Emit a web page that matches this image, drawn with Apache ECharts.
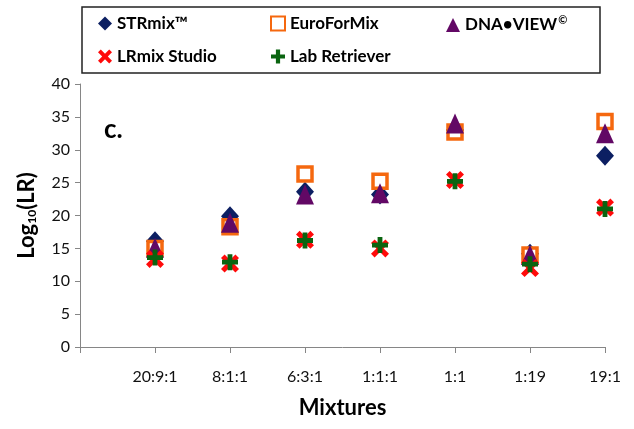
<!DOCTYPE html>
<html>
<head>
<meta charset="utf-8">
<script src="https://cdn.jsdelivr.net/npm/echarts@6/dist/echarts.min.js"></script>
<style>
  html, body { margin: 0; padding: 0; background: #fff; }
  #main { width: 634px; height: 429px; }
</style>
</head>
<body>
<div id="main"></div>
<script>
var categories = ['20:9:1', '8:1:1', '6:3:1', '1:1:1', '1:1', '1:19', '19:1'];
var strmix = [16.1, 19.9, 23.6, 23.2, 33.0, 14.2, 29.1];
var euroForMix = [15.0, 18.3, 26.3, 25.2, 32.7, 14.0, 34.3];
var dnaView = [15.1, 18.9, 23.2, 23.4, 34.0, 14.0, 32.5];
var lrmix = [13.4, 12.7, 16.3, 15.0, 25.4, 12.0, 21.2];
var labRetriever = [13.6, 12.9, 16.2, 15.5, 25.2, 12.6, 21.0];
var yTicks = [0, 5, 10, 15, 20, 25, 30, 35, 40];

var font = 'Lato, "Open Sans", sans-serif';
var xPath = 'path://M2,0 L5,3 L8,0 L10,2 L7,5 L10,8 L8,10 L5,7 L2,10 L0,8 L3,5 L0,2 Z';
var plusPath = 'path://M3.5,0 H6.5 V3.5 H10 V6.5 H6.5 V10 H3.5 V6.5 H0 V3.5 H3.5 Z';

function pts(vals) {
    return vals.map(function (v, i) {
        return [i + 1, v];
    });
}

var chart = echarts.init(document.getElementById('main'));

function legendItem(name, left, top) {
    return {
        data: [name],
        left: left,
        top: top,
        padding: 0,
        itemWidth: 14,
        itemHeight: 14,
        itemGap: 6,
        selectedMode: false,
        formatter: function (n) {
            // superscript the © mark like the original
            if (n.indexOf('©') >= 0) {
                return '{t|' + n.replace('©', '') + '}{sup|©}';
            }
            return '{t|' + n + '}';
        },
        textStyle: {
            fontFamily: font, fontWeight: 'bold', fontSize: 17, color: '#000',
            rich: {
                t: {fontFamily: font, fontWeight: 'bold', fontSize: 17, color: '#000'},
                sup: {fontFamily: font, fontWeight: 'bold', fontSize: 11, color: '#000', padding: [0, 0, 9, 1]}
            }
        }
    };
}

var option = {
    animation: false,
    grid: {left: 80, right: 29, top: 84, bottom: 82},
    legend: [
        legendItem('STRmix™', 98, 15),
        legendItem('EuroForMix', 270, 15),
        legendItem('DNA•VIEW©', 446, 15),
        legendItem('LRmix Studio', 98, 48),
        legendItem('Lab Retriever', 271, 48)
    ],
    graphic: [{
        type: 'rect',
        shape: {x: 82, y: 7, width: 518, height: 66},
        style: {fill: 'none', stroke: '#222', lineWidth: 1.5}
    }, {
        type: 'text',
        left: 104,
        top: 117,
        style: {text: 'c.', font: 'bold 26px ' + font, fill: '#000'}
    }],
    xAxis: {
        type: 'value',
        min: 0,
        max: categories.length,
        interval: 1,
        name: 'Mixtures',
        nameLocation: 'middle',
        nameGap: 50,
        nameTextStyle: {fontFamily: font, fontWeight: 'bold', fontSize: 22, color: '#000'},
        splitLine: {show: false},
        axisLine: {lineStyle: {color: '#868686'}},
        axisTick: {length: 6, lineStyle: {color: '#868686'}},
        axisLabel: {
            margin: 22,
            fontFamily: font,
            fontSize: 16,
            color: '#111',
            formatter: function (v) {
                return v >= 1 ? categories[v - 1] : '';
            }
        }
    },
    yAxis: {
        type: 'value',
        min: yTicks[0],
        max: yTicks[yTicks.length - 1],
        interval: 5,
        name: 'Log{sub|10}(LR)',
        nameLocation: 'middle',
        nameGap: 42,
        nameTextStyle: {
            fontFamily: font, fontWeight: 'bold', fontSize: 22, color: '#000',
            rich: {
                sub: {fontFamily: font, fontWeight: 'bold', fontSize: 12, color: '#000', padding: [10, 0, 0, 0]}
            }
        },
        splitLine: {show: false},
        axisLine: {show: true, lineStyle: {color: '#868686'}},
        axisTick: {show: true, length: 5, lineStyle: {color: '#868686'}},
        axisLabel: {margin: 10, fontFamily: font, fontSize: 16, color: '#111'}
    },
    series: [{
        name: 'STRmix™',
        type: 'scatter',
        symbol: 'diamond',
        symbolSize: [18, 20],
        itemStyle: {color: '#0C1F62', opacity: 1},
        data: pts(strmix)
    }, {
        name: 'EuroForMix',
        type: 'scatter',
        symbol: 'rect',
        symbolSize: 14,
        itemStyle: {color: '#fff', borderColor: '#F5680F', borderWidth: 3.5, opacity: 1},
        data: pts(euroForMix)
    }, {
        name: 'DNA•VIEW©',
        type: 'scatter',
        symbol: 'triangle',
        symbolSize: [18, 20],
        itemStyle: {color: '#620865', opacity: 1},
        data: pts(dnaView)
    }, {
        name: 'LRmix Studio',
        type: 'scatter',
        symbol: xPath,
        symbolSize: 18,
        itemStyle: {color: '#FF0A0A', opacity: 1},
        data: pts(lrmix)
    }, {
        name: 'Lab Retriever',
        type: 'scatter',
        symbol: plusPath,
        symbolSize: 16,
        itemStyle: {color: '#0A6410', opacity: 1},
        data: pts(labRetriever)
    }]
};

chart.setOption(option);
</script>
</body>
</html>
